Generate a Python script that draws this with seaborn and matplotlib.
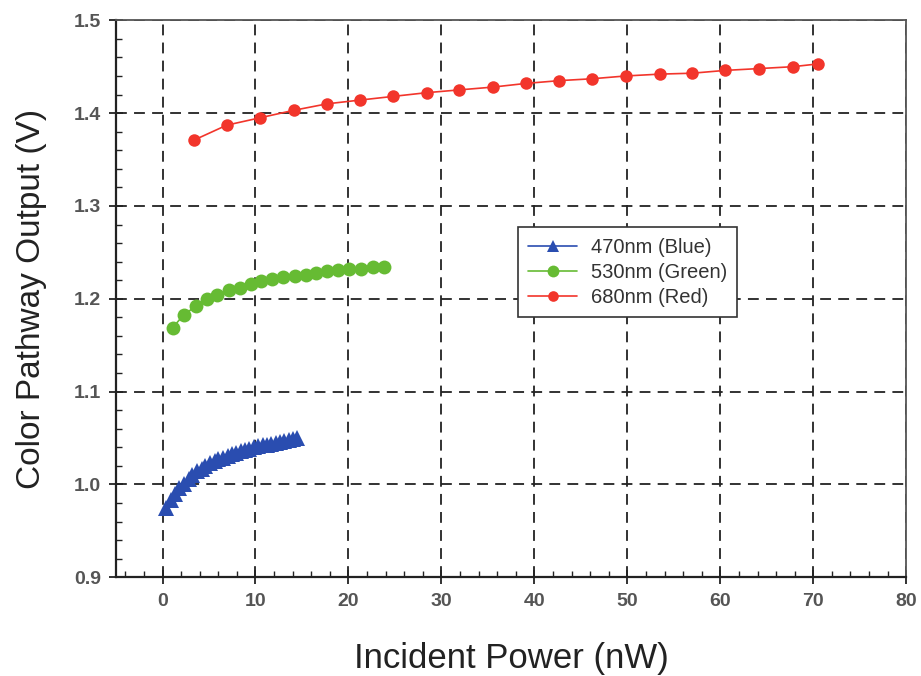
import pandas as pd
import matplotlib
matplotlib.use("Agg")
import matplotlib.pyplot as plt
import seaborn as sns
from matplotlib.ticker import MultipleLocator

# ---- data ----
blue_x = [0.4, 0.9, 1.3, 1.8, 2.3, 2.8, 3.2, 3.7, 4.2, 4.6, 5.1, 5.6, 6.0, 6.5, 7.0, 7.5,
          7.9, 8.4, 8.9, 9.3, 9.8, 10.3, 10.8, 11.2, 11.7, 12.2, 12.6, 13.1, 13.6, 14.0, 14.5]
blue_y = [0.975, 0.983, 0.990, 0.996, 1.001, 1.006, 1.010, 1.014, 1.017, 1.020, 1.023,
          1.025, 1.027, 1.029, 1.031, 1.033, 1.034, 1.036, 1.037, 1.038, 1.040, 1.041,
          1.042, 1.043, 1.044, 1.045, 1.046, 1.047, 1.048, 1.049, 1.050]

green_x = [1.1, 2.3, 3.6, 4.8, 5.9, 7.1, 8.3, 9.5, 10.6, 11.8, 13.0, 14.2, 15.4, 16.5,
           17.7, 18.9, 20.1, 21.3, 22.6, 23.8]
green_y = [1.169, 1.183, 1.192, 1.200, 1.204, 1.209, 1.212, 1.216, 1.219, 1.221, 1.223,
           1.225, 1.226, 1.228, 1.230, 1.231, 1.232, 1.232, 1.234, 1.234]

red_x = [3.4, 6.9, 10.5, 14.1, 17.7, 21.2, 24.8, 28.4, 31.9, 35.5, 39.1, 42.7, 46.2,
         49.8, 53.5, 57.0, 60.5, 64.2, 67.8, 70.5]
red_y = [1.371, 1.387, 1.395, 1.403, 1.410, 1.414, 1.418, 1.422, 1.425, 1.428, 1.432,
         1.435, 1.437, 1.440, 1.442, 1.443, 1.446, 1.448, 1.450, 1.453]

series = [
    ("470nm (Blue)", blue_x, blue_y, "#2a4db0", "^", 11),
    ("530nm (Green)", green_x, green_y, "#66bb33", "o", 10),
    ("680nm (Red)", red_x, red_y, "#f2352b", "o", 9),
]

sns.set_style("white")
plt.rcParams['font.family'] = ['Liberation Sans', 'DejaVu Sans']

fig, ax = plt.subplots(figsize=(9.21, 6.76), dpi=100)
fig.subplots_adjust(left=0.126, right=0.984, top=0.970, bottom=0.146)

for name, xs, ys, color, marker, size in series:
    df = pd.DataFrame({"x": xs, "y": ys})
    sns.lineplot(data=df, x="x", y="y", ax=ax, color=color, marker=marker,
                 markersize=size, markeredgewidth=0, linewidth=1.2,
                 label=name, zorder=3)

# ---- axes styling ----
ax.set_xlim(-5, 80)
ax.set_ylim(0.9, 1.5)
ax.xaxis.set_minor_locator(MultipleLocator(2))
ax.yaxis.set_minor_locator(MultipleLocator(0.02))
ax.set_xticks(range(0, 81, 10))
ax.set_yticks([0.9, 1.0, 1.1, 1.2, 1.3, 1.4, 1.5])
ax.set_yticklabels(["0.9", "1.0", "1.1", "1.2", "1.3", "1.4", "1.5"])

ax.grid(True, which="major", color="#222222", linestyle=(0, (6, 4)), linewidth=1.3)
ax.tick_params(axis="both", which="major", direction="inout", length=10, width=1.3,
               labelsize=14, labelcolor="#555555", color="#222222", pad=6,
               bottom=True, left=True)
ax.tick_params(axis="both", which="minor", direction="in", length=4, width=1.0,
               color="#222222", bottom=True, left=True)
for lab in ax.get_xticklabels() + ax.get_yticklabels():
    lab.set_fontweight("bold")

for side in ["left", "bottom"]:
    ax.spines[side].set_color("#222222")
    ax.spines[side].set_linewidth(1.6)
for side in ["top", "right"]:
    ax.spines[side].set_color("#555555")
    ax.spines[side].set_linewidth(1.3)

ax.set_xlabel("Incident Power (nW)", fontsize=25, color="#222222")
ax.set_ylabel("Color Pathway Output (V)", fontsize=24, color="#222222")
ax.xaxis.set_label_coords(0.5, -0.116)
ax.yaxis.set_label_coords(-0.088, 0.5)

leg = ax.legend(loc="upper left", bbox_to_anchor=(0.509, 0.628),
                fontsize=14.5, fancybox=False, framealpha=1,
                edgecolor="#333333", handlelength=2.4, handletextpad=0.7,
                borderpad=0.5, labelspacing=0.3, borderaxespad=0, markerscale=0.85)
leg.get_frame().set_linewidth(1.2)
for text in leg.get_texts():
    text.set_color("#333333")

fig.savefig("out.png", dpi=100)
